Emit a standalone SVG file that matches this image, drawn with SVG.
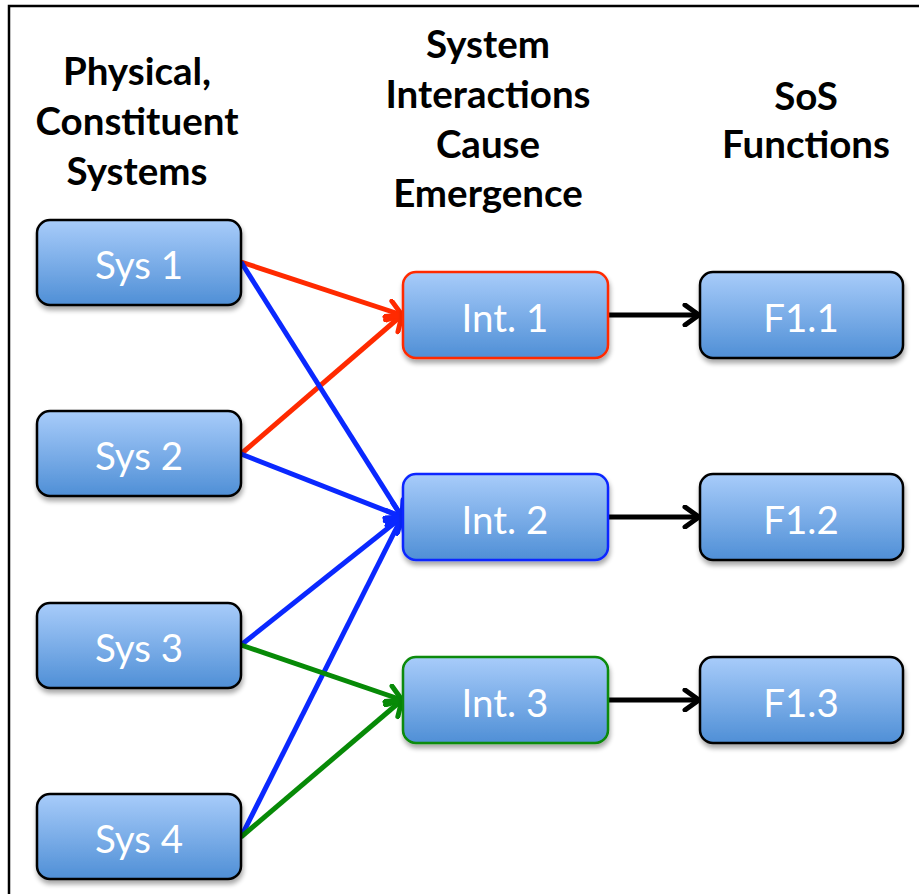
<svg xmlns="http://www.w3.org/2000/svg" width="919" height="894" viewBox="0 0 919 894">
  <defs>
    <linearGradient id="boxFill" x1="0" y1="0" x2="0" y2="1">
      <stop offset="0" stop-color="#A8CCFA"/>
      <stop offset="1" stop-color="#4F8FD6"/>
    </linearGradient>
    <filter id="shadow" x="-10%" y="-10%" width="125%" height="135%">
      <feGaussianBlur in="SourceAlpha" stdDeviation="2.5"/>
      <feOffset dx="1" dy="4" result="b"/>
      <feComponentTransfer><feFuncA type="linear" slope="0.35"/></feComponentTransfer>
      <feMerge><feMergeNode/><feMergeNode in="SourceGraphic"/></feMerge>
    </filter>
    <marker id="arrRed" markerUnits="userSpaceOnUse" viewBox="0 0 20 24" refX="18" refY="12" markerWidth="20" markerHeight="24" orient="auto">
      <path d="M4,2 L18,12 L4,22" fill="none" stroke="#FF2A00" stroke-width="5" stroke-linecap="round" stroke-linejoin="round"/>
    </marker>
    <marker id="arrBlue" markerUnits="userSpaceOnUse" viewBox="0 0 20 24" refX="18" refY="12" markerWidth="20" markerHeight="24" orient="auto">
      <path d="M4,2 L18,12 L4,22" fill="none" stroke="#0A28FF" stroke-width="5" stroke-linecap="round" stroke-linejoin="round"/>
    </marker>
    <marker id="arrGreen" markerUnits="userSpaceOnUse" viewBox="0 0 20 24" refX="18" refY="12" markerWidth="20" markerHeight="24" orient="auto">
      <path d="M4,2 L18,12 L4,22" fill="none" stroke="#078A07" stroke-width="5" stroke-linecap="round" stroke-linejoin="round"/>
    </marker>
    <marker id="arrBlack" markerUnits="userSpaceOnUse" viewBox="0 0 20 24" refX="18" refY="12" markerWidth="20" markerHeight="24" orient="auto">
      <path d="M4,2 L18,12 L4,22" fill="none" stroke="#000" stroke-width="5" stroke-linecap="round" stroke-linejoin="round"/>
    </marker>
  </defs>
  <style>
    .frame { fill: none; stroke: #000; stroke-width: 2.5; }
    .head { font-family: Lato, "Liberation Sans", sans-serif; font-weight: bold; font-size: 38.5px; fill: #000; text-anchor: middle; }
    .box { fill: url(#boxFill); stroke: #000; stroke-width: 2.5; filter: url(#shadow); }
    .lbl { font-family: Lato, "Liberation Sans", sans-serif; font-size: 38.5px; fill: #fff; text-anchor: middle; }
    .conn { fill: none; stroke-width: 5; }
    .red { stroke: #FF2A00; marker-end: url(#arrRed); }
    .blue { stroke: #0A28FF; marker-end: url(#arrBlue); }
    .green { stroke: #078A07; marker-end: url(#arrGreen); }
    .black { stroke: #000; marker-end: url(#arrBlack); }
  </style>

  <rect x="0" y="0" width="919" height="894" fill="#fff"/>
  <rect class="frame" x="9" y="6" width="930" height="920"/>

  <!-- column headings -->
  <g id="heading-systems">
    <text class="head" x="137" y="85">Physical,</text>
    <text class="head" x="137" y="135">Constituent</text>
    <text class="head" x="137" y="185">Systems</text>
  </g>
  <g id="heading-interactions">
    <text class="head" x="488" y="58">System</text>
    <text class="head" x="488" y="108">Interactions</text>
    <text class="head" x="488" y="158">Cause</text>
    <text class="head" x="488" y="207">Emergence</text>
  </g>
  <g id="heading-functions">
    <text class="head" x="806" y="110">SoS</text>
    <text class="head" x="806" y="158">Functions</text>
  </g>

  <!-- connectors -->
  <g id="connectors">
    <line class="conn red" x1="241" y1="262" x2="402" y2="315"/>
    <line class="conn red" x1="241" y1="454" x2="402" y2="315"/>
    <line class="conn blue" x1="241" y1="262" x2="402" y2="517"/>
    <line class="conn blue" x1="241" y1="454" x2="402" y2="517"/>
    <line class="conn blue" x1="241" y1="645" x2="402" y2="517"/>
    <line class="conn blue" x1="241" y1="837" x2="402" y2="517"/>
    <line class="conn green" x1="241" y1="645" x2="402" y2="700"/>
    <line class="conn green" x1="241" y1="837" x2="402" y2="700"/>
    <line class="conn black" x1="608" y1="315" x2="699" y2="315"/>
    <line class="conn black" x1="608" y1="517" x2="699" y2="517"/>
    <line class="conn black" x1="608" y1="700" x2="699" y2="700"/>
  </g>

  <!-- constituent systems -->
  <g id="sys1"><rect class="box" x="37" y="220" width="204" height="85" rx="13"/><text class="lbl" x="139" y="279">Sys 1</text></g>
  <g id="sys2"><rect class="box" x="37" y="411" width="204" height="85" rx="13"/><text class="lbl" x="139" y="470">Sys 2</text></g>
  <g id="sys3"><rect class="box" x="37" y="603" width="204" height="85" rx="13"/><text class="lbl" x="139" y="662">Sys 3</text></g>
  <g id="sys4"><rect class="box" x="37" y="794" width="204" height="85" rx="13"/><text class="lbl" x="139" y="853">Sys 4</text></g>

  <!-- interactions -->
  <g id="int1"><rect class="box" x="403" y="272" width="205" height="86" rx="13" style="stroke:#FF2A00"/><text class="lbl" x="505" y="332">Int. 1</text></g>
  <g id="int2"><rect class="box" x="403" y="474" width="205" height="86" rx="13" style="stroke:#0A28FF"/><text class="lbl" x="505" y="534">Int. 2</text></g>
  <g id="int3"><rect class="box" x="403" y="657" width="205" height="86" rx="13" style="stroke:#078A07"/><text class="lbl" x="505" y="717">Int. 3</text></g>

  <!-- SoS functions -->
  <g id="f11"><rect class="box" x="700" y="272" width="203" height="86" rx="13"/><text class="lbl" x="801" y="332">F1.1</text></g>
  <g id="f12"><rect class="box" x="700" y="474" width="203" height="86" rx="13"/><text class="lbl" x="801" y="534">F1.2</text></g>
  <g id="f13"><rect class="box" x="700" y="657" width="203" height="86" rx="13"/><text class="lbl" x="801" y="717">F1.3</text></g>
</svg>
